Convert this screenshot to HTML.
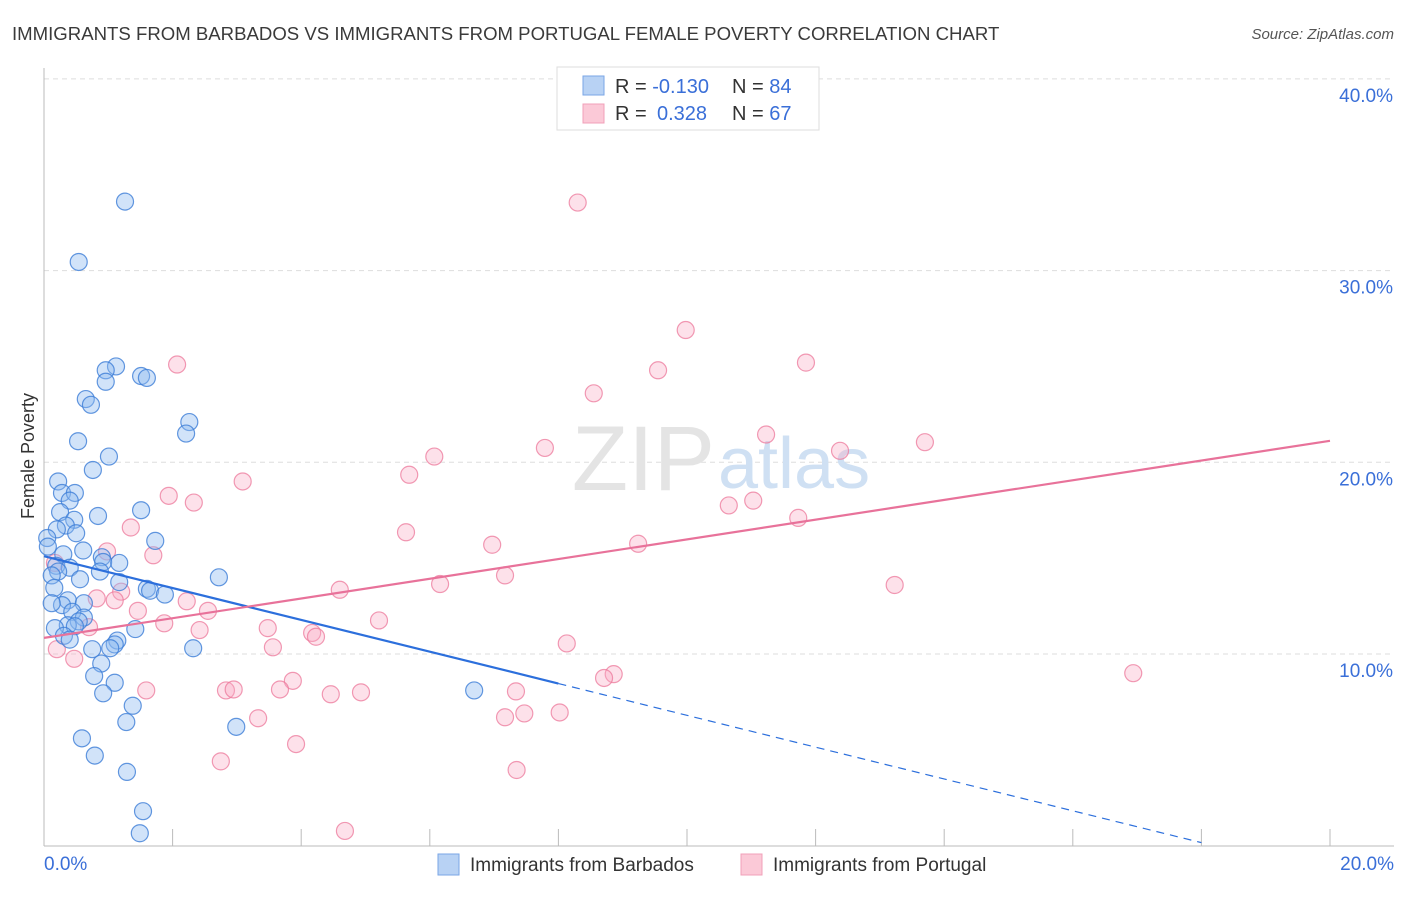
<!DOCTYPE html>
<html><head><meta charset="utf-8"><style>
body{margin:0;background:#fff;font-family:"Liberation Sans",sans-serif}
svg text{font-family:"Liberation Sans",sans-serif}
</style></head><body>
<svg id="chart" width="1406" height="892" viewBox="0 0 1406 892" xmlns="http://www.w3.org/2000/svg">
<text x="12" y="40" font-size="18.6" fill="#3a3a3a">IMMIGRANTS FROM BARBADOS VS IMMIGRANTS FROM PORTUGAL FEMALE POVERTY CORRELATION CHART</text>
<text x="1394" y="39" font-size="15" fill="#555" font-style="italic" text-anchor="end">Source: ZipAtlas.com</text>
<text x="34" y="456" font-size="18" fill="#333" transform="rotate(-90 34 456)" text-anchor="middle">Female Poverty</text>
<g id="grid"></g>
<g id="axes"></g>
<text x="715" y="490" font-size="92" fill="#e4e4e4" text-anchor="end" font-family="Liberation Serif">ZIP</text>
<text x="718" y="488" font-size="72" fill="#cfe0f3">atlas</text>
<g id="pts"></g>
<g id="trend"></g>
<g>
<rect x="557" y="67" width="262" height="63" fill="#fff" stroke="#ddd"/>
<rect x="583" y="76" width="21" height="19" fill="#b8d2f4" stroke="#7aa6e6"/>
<rect x="583" y="104" width="21" height="19" fill="#fbc9d7" stroke="#f0a0b8"/>
<text x="615" y="93" font-size="20" fill="#333">R = <tspan fill="#3a6fd8">-0.130</tspan><tspan x="732">N = </tspan><tspan fill="#3a6fd8">84</tspan></text>
<text x="615" y="120" font-size="20" fill="#333">R = <tspan x="657" fill="#3a6fd8">0.328</tspan><tspan x="732">N = </tspan><tspan fill="#3a6fd8">67</tspan></text>
</g>
<g>
<rect x="438" y="854" width="21" height="21" fill="#b8d2f4" stroke="#7aa6e6"/>
<text x="470" y="871" font-size="19" fill="#333">Immigrants from Barbados</text>
<rect x="741" y="854" width="21" height="21" fill="#fbc9d7" stroke="#f0a0b8"/>
<text x="773" y="871" font-size="19" fill="#333">Immigrants from Portugal</text>
</g>
</svg>
<script>
const yTicks=[10,20,30,40];
const yTickLabels=["10.0%","20.0%","30.0%","40.0%"];
const xTickVals=[0,2,4,6,8,10,12,14,16,18,20];
const xEndLabels=["0.0%","20.0%"];
const barbadosX=[1.26,0.54,1.12,0.96,1.51,1.60,0.96,0.65,0.73,2.26,2.21,0.53,1.01,0.76,0.22,0.28,0.48,0.40,1.51,0.84,0.25,0.47,0.34,0.20,0.50,1.73,0.05,0.06,0.61,0.30,0.90,0.92,1.17,0.19,0.40,0.22,0.87,0.12,2.72,0.56,1.17,0.16,1.60,1.65,1.88,0.37,0.62,0.28,0.12,0.44,0.62,0.54,0.37,0.48,0.17,1.42,0.31,0.40,1.14,1.10,1.03,2.32,0.75,0.89,0.78,1.10,0.92,6.69,1.38,1.28,2.99,0.59,0.79,1.29,1.54,1.49];
const barbadosY=[33.6,30.45,25.0,24.8,24.5,24.4,24.2,23.3,23.0,22.1,21.5,21.1,20.3,19.6,19.0,18.4,18.4,18.0,17.5,17.2,17.4,17.0,16.7,16.5,16.3,15.9,16.05,15.6,15.4,15.2,15.05,14.8,14.75,14.6,14.5,14.3,14.3,14.1,14.0,13.9,13.75,13.45,13.4,13.3,13.1,12.8,12.65,12.55,12.65,12.2,11.9,11.7,11.5,11.45,11.35,11.3,10.95,10.75,10.7,10.5,10.3,10.3,10.25,9.5,8.85,8.5,7.95,8.1,7.3,6.45,6.2,5.6,4.7,3.85,1.8,0.65];
const portugalX=[8.30,9.98,11.85,2.07,9.55,8.55,11.23,13.70,7.79,12.38,6.07,5.68,3.09,1.94,2.33,11.03,10.65,11.73,1.35,5.63,6.97,9.24,0.98,1.70,0.17,7.17,6.16,13.23,4.60,1.20,0.82,1.10,2.22,2.55,1.46,5.21,1.87,0.70,3.48,2.42,4.17,4.23,8.13,3.56,0.20,0.47,16.94,8.86,8.71,3.87,1.59,2.83,2.95,3.67,7.34,4.93,4.46,7.47,7.17,8.02,3.33,3.92,2.75,7.35,4.68];
const portugalY=[33.55,26.9,25.2,25.1,24.8,23.6,21.45,21.05,20.75,20.6,20.3,19.35,19.0,18.25,17.9,18.0,17.75,17.1,16.6,16.35,15.7,15.75,15.35,15.15,14.75,14.1,13.65,13.6,13.35,13.25,12.9,12.8,12.75,12.25,12.25,11.75,11.6,11.4,11.35,11.25,11.1,10.9,10.55,10.35,10.25,9.75,9.0,8.95,8.75,8.6,8.1,8.1,8.15,8.15,8.05,8.0,7.9,6.9,6.7,6.95,6.65,5.3,4.4,3.95,0.77];
const blueTrend=[15.1,-0.83];
const blueSolidEnd=8;
const blueDashEnd=18;
const pinkTrend=[10.84,0.514];

const NS="http://www.w3.org/2000/svg";
const X=v=>44+v*64.3, Y=v=>845.7-v*19.17;
function mk(t,a,p){const e=document.createElementNS(NS,t);for(const k in a)e.setAttribute(k,a[k]);p.appendChild(e);return e;}
const grid=document.getElementById('grid'),axes=document.getElementById('axes'),pts=document.getElementById('pts'),tr=document.getElementById('trend');
yTicks.forEach((t,i)=>{
  const l=mk('line',{x1:44,x2:1394,y1:Y(t),y2:Y(t),stroke:'#ddd','stroke-dasharray':'5,4'},grid);
  
  
  const tx=mk('text',{x:1393,y:Y(t)+23,'font-size':19,fill:'#3a6fd8','text-anchor':'end'},axes);
  tx.textContent=yTickLabels[i];
  
  
});
const ya=mk('line',{x1:44,x2:44,y1:68,y2:846,stroke:'#bbb'},axes);


const xa=mk('line',{x1:44,x2:1394,y1:846,y2:846,stroke:'#bbb'},axes);


xTickVals.forEach(t=>{
  const l=mk('line',{x1:X(t),x2:X(t),y1:829,y2:846,stroke:'#bbb'},axes);
  
  
});
[[0,'start',44],[20,'end',1394]].forEach((d,i)=>{
  const tx=mk('text',{x:d[2],y:870,'font-size':19,fill:'#3a6fd8','text-anchor':d[1]},axes);
  tx.textContent=xEndLabels[i];
  
  
});
function dots(xs,ys,fill,stroke,name){
  xs.forEach((x,i)=>{
    const c=mk('circle',{cx:X(x),cy:Y(ys[i]),r:8.5,fill:fill,stroke:stroke,'stroke-width':1.2},pts);
    
    
  });
}
dots(portugalX,portugalY,'rgba(248,170,195,0.35)','rgba(236,120,155,0.75)','point-portugal');
dots(barbadosX,barbadosY,'rgba(140,185,240,0.4)','rgba(60,125,215,0.8)','point-barbados');

const by=x=>blueTrend[0]+blueTrend[1]*x;
const py=x=>pinkTrend[0]+pinkTrend[1]*x;
const b1=mk('line',{x1:X(0),y1:Y(by(0)),x2:X(blueSolidEnd),y2:Y(by(blueSolidEnd)),stroke:'#2c6fdc','stroke-width':2.2},tr);


const b2=mk('line',{x1:X(blueSolidEnd),y1:Y(by(blueSolidEnd)),x2:X(blueDashEnd),y2:Y(by(blueDashEnd)),stroke:'#2c6fdc','stroke-width':1.2,'stroke-dasharray':'8,6'},tr);


const p1=mk('line',{x1:X(0),y1:Y(py(0)),x2:X(20),y2:Y(py(20)),stroke:'#e8729a','stroke-width':2.2},tr);


</script>
</body></html>
